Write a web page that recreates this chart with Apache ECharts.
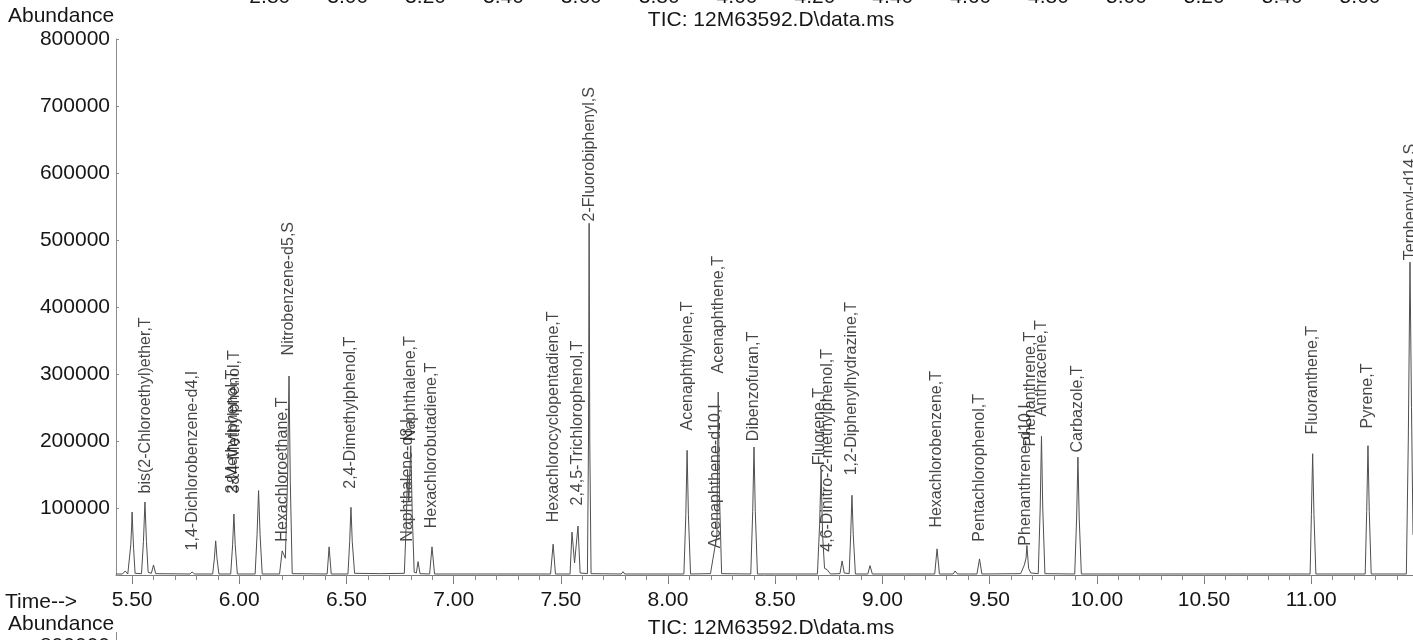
<!DOCTYPE html>
<html>
<head>
<meta charset="utf-8">
<script src="https://cdn.jsdelivr.net/npm/echarts@6/dist/echarts.min.js"></script>
<style>
html,body{margin:0;padding:0;background:#fff;}
#c{width:1413px;height:640px;}
</style>
</head>
<body>
<div id="c"></div>
<script>
// ---- data ----
const traceTime = [
5.425,5.455,5.468,5.480,
5.487,5.494,5.498,5.500,5.503,5.507,5.514,
5.544,5.553,5.560,5.567,5.575,
5.590,5.600,5.610,
5.770,5.780,5.792,
5.876,5.884,5.890,5.896,5.905,
5.960,5.969,5.975,5.981,5.991,
6.074,6.083,6.090,6.097,6.107,
6.188,6.200,6.215,6.225,6.232,6.238,6.247,
6.410,6.419,6.429,
6.507,6.515,6.521,6.527,6.538,
6.660,6.770,6.778,6.785,6.791,6.800,6.807,6.816,
6.826,6.834,6.843,
6.888,6.899,6.911,
7.100,7.452,7.464,7.475,
7.543,7.552,7.564,7.580,7.590,
7.624,7.629,7.632,7.635,7.641,
7.782,7.790,7.798,
8.074,8.083,8.089,8.095,8.105,
8.198,8.210,8.218,8.228,8.234,8.240,8.250,
8.386,8.395,8.401,8.407,8.417,
8.697,8.707,8.714,8.721,8.730,8.742,8.758,
8.802,8.812,8.822,
8.845,8.852,8.858,8.864,8.874,
8.932,8.942,8.953,
9.230,9.244,9.255,9.266,
9.330,9.339,9.350,
9.441,9.453,9.464,
9.645,9.662,9.670,9.674,9.682,9.692,
9.727,9.736,9.742,9.748,9.758,
9.897,9.906,9.912,9.918,9.928,
10.995,11.001,11.007,11.013,11.022,
11.252,11.259,11.265,11.271,11.280,
11.444,11.453,11.461,11.468,11.475
];
const traceAbundance = [
1500,1500,6000,1500,
2000,45000,73000,94000,70000,40000,2500,
2000,50000,109000,50000,4000,
2500,15000,2000,
1500,4500,1500,
1500,25000,51000,25000,1500,
1500,45000,91000,45000,1500,
1500,60000,126000,60000,1500,
1500,36000,25000,140000,297000,140000,2000,
1500,42000,1500,
1500,50000,101000,50000,2500,
2000,2500,70000,150000,110000,193000,90000,4000,
3000,20000,2000,
1500,42000,1500,
1500,1500,46000,1500,
1500,64000,18000,73000,3000,
2000,200000,525000,200000,2000,
1500,5000,1500,
1500,90000,186000,90000,1500,
2000,25000,40000,60000,273000,120000,2000,
1500,95000,191000,95000,1500,
1500,75000,156000,60000,10000,8000,1500,
2000,21000,3000,
2000,60000,119000,60000,1500,
1500,14000,1500,
1500,1500,39000,1500,
1500,6000,1500,
1500,24000,1500,
2000,15000,25000,44000,10000,3000,
2000,100000,207000,100000,2000,
1500,85000,176000,85000,1500,
1500,90000,181000,90000,1500,
1500,95000,193000,95000,1500,
1500,200000,467000,250000,60000
];

const compoundNames = [
"bis(2-Chloroethyl)ether,T","1,4-Dichlorobenzene-d4,I","2-Methylphenol,T","3&4-Methylphenol,T",
"Hexachloroethane,T","Nitrobenzene-d5,S","2,4-Dimethylphenol,T","Naphthalene-d8,I","Naphthalene,T",
"Hexachlorobutadiene,T","Hexachlorocyclopentadiene,T","2,4,5-Trichlorophenol,T","2-Fluorobiphenyl,S",
"Acenaphthylene,T","Acenaphthene-d10,I","Acenaphthene,T","Dibenzofuran,T","Fluorene,T",
"4,6-Dinitro-2-methylphenol,T","1,2-Diphenylhydrazine,T","Hexachlorobenzene,T","Pentachlorophenol,T",
"Phenanthrene-d10,I","Phenanthrene,T","Anthracene,T","Carbazole,T","Fluoranthene,T","Pyrene,T",
"Terphenyl-d14,S"
];
const compoundTimes = [
5.561,5.783,5.971,5.980,
6.203,6.228,6.520,6.783,6.801,
6.899,7.464,7.580,7.632,
8.089,8.224,8.238,8.401,8.709,
8.742,8.858,9.255,9.451,
9.670,9.693,9.744,9.912,11.008,11.265,
11.462
];
// abundance level at which each annotation starts
const labelBase = [
121000,36000,121000,121000,
49000,327000,128000,49000,199000,
69000,78000,103000,527000,
215000,39000,300000,199000,163000,
34000,148000,70000,49000,
43000,191000,236000,182000,209000,218000,
469000
];

const timeTicks = [5.5,6.0,6.5,7.0,7.5,8.0,8.5,9.0,9.5,10.0,10.5,11.0];
const minorTimeTicks = [
5.5,5.6,5.7,5.8,5.9,6.0,6.1,6.2,6.3,6.4,6.5,6.6,6.7,6.8,6.9,
7.0,7.1,7.2,7.3,7.4,7.5,7.6,7.7,7.8,7.9,8.0,8.1,8.2,8.3,8.4,
8.5,8.6,8.7,8.8,8.9,9.0,9.1,9.2,9.3,9.4,9.5,9.6,9.7,9.8,9.9,
10.0,10.1,10.2,10.3,10.4,10.5,10.6,10.7,10.8,10.9,11.0,11.1,11.2,11.3,11.4
];
// tick labels of the cut-off panel above
const prevPanelTicks = [2.8,3.0,3.2,3.4,3.6,3.8,4.0,4.2,4.4,4.6,4.8,5.0,5.2,5.4,5.6];
const titleText = "TIC: 12M63592.D\\data.ms";
const yName = "Abundance";
const xName = "Time-->";
const nextPanelTop = "800000";

// ---- chart ----
const FONT = "'Liberation Sans', Arial, Helvetica, sans-serif";
const TXT = '#161616';
const chart = echarts.init(document.getElementById('c'), null, {renderer: 'canvas'});

const traceData = traceTime.map((t, i) => [t, traceAbundance[i]]);
const labelData = compoundTimes.map((t, i) => ({name: compoundNames[i], value: [t, labelBase[i]]}));

const gridBox = {left: 116, right: 0, top: 39, bottom: 65, outerBoundsMode: 'none', containLabel: false};

const option = {
  animation: false,
  backgroundColor: '#ffffff',
  grid: [Object.assign({}, gridBox), Object.assign({}, gridBox)],
  xAxis: [
    {
      type: 'value', gridIndex: 0, position: 'bottom', min: 5.425, max: 11.475,
      axisLine: {show: true, onZero: false, lineStyle: {color: '#7a7a7a', width: 1}},
      axisTick: {show: true, customValues: timeTicks, length: 9, lineStyle: {color: '#7a7a7a'}},
      axisLabel: {show: true, customValues: timeTicks, formatter: v => v.toFixed(2),
        fontSize: 21, color: TXT, fontFamily: FONT, margin: 15},
      splitLine: {show: false}
    },
    {
      type: 'value', gridIndex: 0, position: 'top', min: 2.405, max: 5.736,
      axisLine: {show: false}, axisTick: {show: false},
      axisLabel: {show: true, customValues: prevPanelTicks, formatter: v => v.toFixed(2),
        fontSize: 21, color: TXT, fontFamily: FONT, margin: 31},
      splitLine: {show: false}
    },
    {
      type: 'value', gridIndex: 1, position: 'bottom', min: 5.425, max: 11.475,
      axisLine: {show: false, onZero: false},
      axisTick: {show: true, customValues: minorTimeTicks, length: 5, lineStyle: {color: '#8a8a8a'}},
      axisLabel: {show: false},
      splitLine: {show: false}
    }
  ],
  yAxis: [
    {
      type: 'value', gridIndex: 0, min: 0, max: 800000, interval: 100000,
      axisLine: {show: true, onZero: false, lineStyle: {color: '#8c8c8c', width: 1}},
      axisTick: {show: true, inside: true, length: 3, lineStyle: {color: '#8c8c8c'}},
      axisLabel: {show: true, fontSize: 21, color: TXT, fontFamily: FONT, margin: 6,
        formatter: v => (v === 0 ? '' : String(v))},
      splitLine: {show: false}
    },
    {type: 'value', gridIndex: 1, min: 0, max: 800000, show: false, splitLine: {show: false}}
  ],
  series: [
    {
      type: 'line', xAxisIndex: 0, yAxisIndex: 0, data: traceData,
      showSymbol: false, symbol: 'none', silent: true, clip: true,
      lineStyle: {color: '#4f4f4f', width: 1}
    },
    {
      type: 'scatter', xAxisIndex: 0, yAxisIndex: 0, data: labelData,
      symbolSize: 1, silent: true, clip: false,
      itemStyle: {color: 'rgba(0,0,0,0)'},
      label: {
        show: true, formatter: '{b}', position: 'top', distance: 0, rotate: 90,
        align: 'left', verticalAlign: 'middle',
        fontSize: 16, color: TXT, fontFamily: FONT
      }
    }
  ],
  graphic: [
    {type: 'text', x: 8, y: 16, style: {text: yName, font: '21px ' + FONT, fill: TXT, align: 'left', verticalAlign: 'middle'}},
    {type: 'text', x: 771, y: 20, style: {text: titleText, font: '21px ' + FONT, fill: TXT, align: 'center', verticalAlign: 'middle'}},
    {type: 'text', x: 5, y: 602, style: {text: xName, font: '21px ' + FONT, fill: TXT, align: 'left', verticalAlign: 'middle'}},
    {type: 'text', x: 8, y: 624, style: {text: yName, font: '21px ' + FONT, fill: TXT, align: 'left', verticalAlign: 'middle'}},
    {type: 'text', x: 771, y: 628, style: {text: titleText, font: '21px ' + FONT, fill: TXT, align: 'center', verticalAlign: 'middle'}},
    {type: 'text', x: 110, y: 646, style: {text: nextPanelTop, font: '21px ' + FONT, fill: TXT, align: 'right', verticalAlign: 'middle'}},
    {type: 'line', shape: {x1: 116.5, y1: 632, x2: 116.5, y2: 640}, style: {stroke: '#8c8c8c', lineWidth: 1}}
  ]
};
chart.setOption(option);
</script>
</body>
</html>
